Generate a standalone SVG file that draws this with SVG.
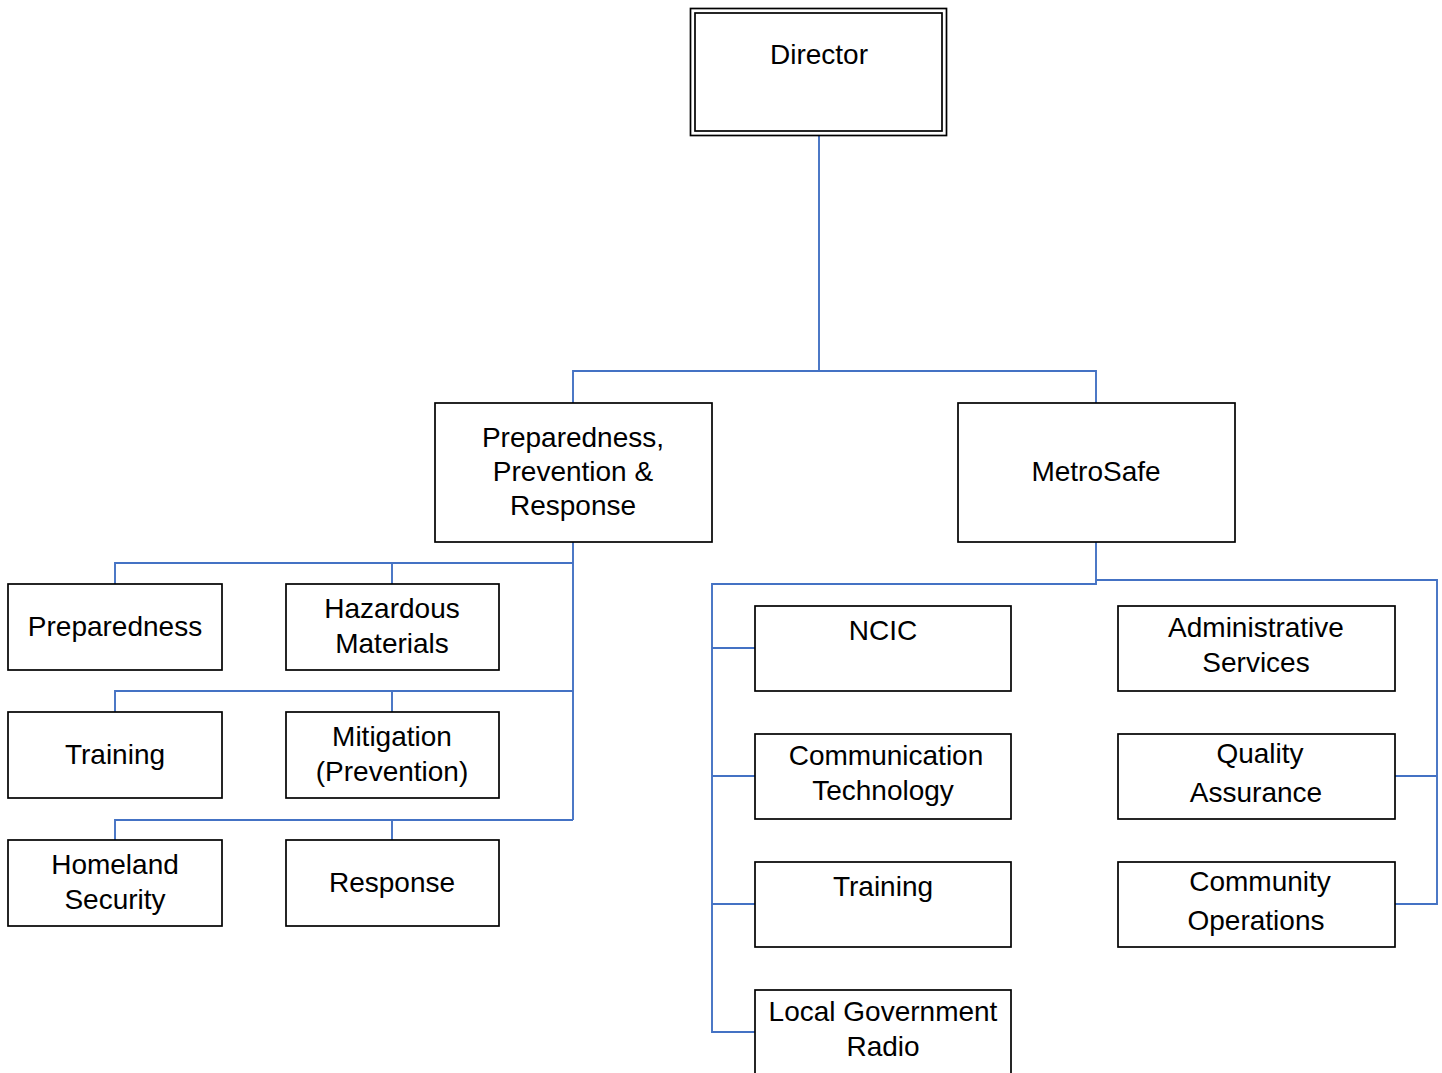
<svg xmlns="http://www.w3.org/2000/svg" width="1442" height="1073" viewBox="0 0 1442 1073">
<style>
.box{fill:#fff;stroke:#000;stroke-width:1.7}
.lbl{font-family:"Liberation Sans",Arial,sans-serif;font-size:28px;fill:#000;text-anchor:middle}
.conn{fill:none;stroke:#4472C4;stroke-width:1.9}
</style>
<rect width="1442" height="1073" fill="#fff"/>
<g id="connectors" class="conn">
<path d="M819 136V371M573 403V371H1096V403"/>
<path d="M573 542V820M115 584V563H573M392 584V563M115 712V691H573M392 712V691M115 840V820H573M392 840V820"/>
<path d="M1096 542V584H712V1032H755M712 648H755M712 776H755M712 904H755"/>
<path d="M1096 580H1437V904H1395M1437 776H1395"/>
</g>
<g id="director">
<rect class="box" x="690.5" y="8.5" width="256" height="127"/>
<rect class="box" x="695" y="13" width="247" height="118"/>
<text class="lbl" x="819" y="64">Director</text>
</g>
<g id="ppr">
<rect class="box" x="435" y="403" width="277" height="139"/>
<text class="lbl" x="573" y="447">Preparedness,</text>
<text class="lbl" x="573" y="481">Prevention &amp;</text>
<text class="lbl" x="573" y="515">Response</text>
</g>
<g id="metrosafe">
<rect class="box" x="958" y="403" width="277" height="139"/>
<text class="lbl" x="1096" y="481">MetroSafe</text>
</g>
<g id="preparedness">
<rect class="box" x="8" y="584" width="214" height="86"/>
<text class="lbl" x="115" y="636">Preparedness</text>
</g>
<g id="hazmat">
<rect class="box" x="286" y="584" width="213" height="86"/>
<text class="lbl" x="392" y="618">Hazardous</text>
<text class="lbl" x="392" y="653">Materials</text>
</g>
<g id="training-left">
<rect class="box" x="8" y="712" width="214" height="86"/>
<text class="lbl" x="115" y="764">Training</text>
</g>
<g id="mitigation">
<rect class="box" x="286" y="712" width="213" height="86"/>
<text class="lbl" x="392" y="746">Mitigation</text>
<text class="lbl" x="392" y="781">(Prevention)</text>
</g>
<g id="homeland">
<rect class="box" x="8" y="840" width="214" height="86"/>
<text class="lbl" x="115" y="874">Homeland</text>
<text class="lbl" x="115" y="909">Security</text>
</g>
<g id="response">
<rect class="box" x="286" y="840" width="213" height="86"/>
<text class="lbl" x="392" y="892">Response</text>
</g>
<g id="ncic">
<rect class="box" x="755" y="606" width="256" height="85"/>
<text class="lbl" x="883" y="640">NCIC</text>
</g>
<g id="commtech">
<rect class="box" x="755" y="734" width="256" height="85"/>
<text class="lbl" x="886" y="765">Communication</text>
<text class="lbl" x="883" y="800">Technology</text>
</g>
<g id="training-right">
<rect class="box" x="755" y="862" width="256" height="85"/>
<text class="lbl" x="883" y="896">Training</text>
</g>
<g id="lgr">
<rect class="box" x="755" y="990" width="256" height="95"/>
<text class="lbl" x="883" y="1021">Local Government</text>
<text class="lbl" x="883" y="1056">Radio</text>
</g>
<g id="admin">
<rect class="box" x="1118" y="606" width="277" height="85"/>
<text class="lbl" x="1256" y="637">Administrative</text>
<text class="lbl" x="1256" y="672">Services</text>
</g>
<g id="qa">
<rect class="box" x="1118" y="734" width="277" height="85"/>
<text class="lbl" x="1260" y="763">Quality</text>
<text class="lbl" x="1256" y="802">Assurance</text>
</g>
<g id="community">
<rect class="box" x="1118" y="862" width="277" height="85"/>
<text class="lbl" x="1260" y="891">Community</text>
<text class="lbl" x="1256" y="930">Operations</text>
</g>
</svg>
